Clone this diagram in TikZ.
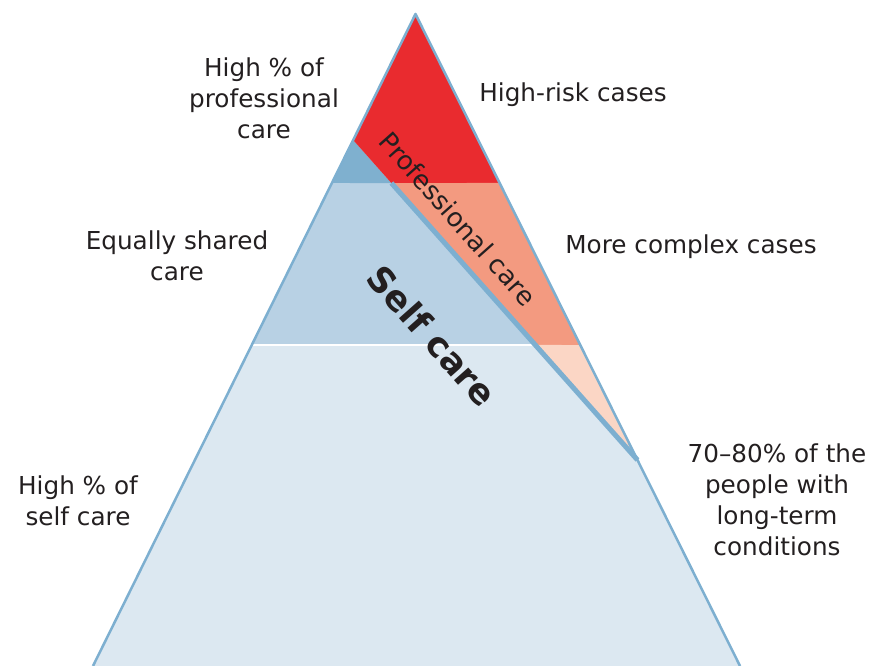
\documentclass[tikz,border=0pt]{standalone}
\usepackage{fontspec}
\setmainfont{DejaVu Sans}
\usetikzlibrary{calc}
\definecolor{carered}{RGB}{233,43,47}
\definecolor{caresalmon}{RGB}{243,154,128}
\definecolor{carepeach}{RGB}{251,214,197}
\definecolor{caredark}{RGB}{127,176,207}
\definecolor{caremid}{RGB}{184,209,228}
\definecolor{carelight}{RGB}{220,232,241}
\definecolor{careline}{RGB}{125,175,208}
\definecolor{caretext}{RGB}{35,31,32}

\begin{document}
\begin{tikzpicture}[x=1pt,y=1pt,
  sidetext/.style={text=caretext, align=center, inner sep=0pt,
    font=\fontsize{24.7}{31}\selectfont}]
\useasboundingbox (0,0) rectangle (876,666);

% Corners of the pyramid
\coordinate (apex) at (415.5,652);
\coordinate (baseL) at (93,0);
\coordinate (baseR) at (740,0);

% Points on the two sides
\coordinate (l140) at ($(apex)!0.1933!(baseL)$);
\coordinate (l183) at ($(apex)!0.2592!(baseL)$);
\coordinate (l345) at ($(apex)!0.5077!(baseL)$);
\coordinate (r183) at ($(apex)!0.2592!(baseR)$);
\coordinate (r345) at ($(apex)!0.5077!(baseR)$);
\coordinate (r460) at ($(apex)!0.6840!(baseR)$);

% Points on the dividing line
\coordinate (d183) at ($(l140)!0.1344!(r460)$);
\coordinate (d345) at ($(l140)!0.6406!(r460)$);

% Self care side
\fill[carelight] (apex) -- (baseL) -- (baseR) -- cycle;
\fill[caremid] (l183) -- (d183) -- (d345) -- (l345) -- cycle;
\fill[caredark] (l140) -- (d183) -- (l183) -- cycle;

% Professional care side
\fill[carered] (apex) -- (r183) -- (d183) -- (l140) -- cycle;
\fill[caresalmon] (d183) -- (r183) -- (r345) -- (d345) -- cycle;
\fill[carepeach] (d345) -- (r345) -- (r460) -- cycle;

% Lines
\draw[white, line width=1.8pt] (l345) -- (d345);
\draw[careline, line width=5pt] (d183) -- (r460);
\draw[careline, line width=2.5pt, line join=round] (baseL) -- (apex) -- (baseR);

% Texts inside
\node[text=caretext, rotate=-48.4, inner sep=0pt, font=\fontsize{26}{30}\selectfont]
  (prof) at (458,447) {Professional care};
\node[text=caretext, rotate=-48.4, inner sep=0pt, font=\fontsize{35}{40}\bfseries]
  (self) at (432,330) {Self care};

% Texts outside
\node[sidetext] (highprof) at (264,568) {High \% of\\professional\\care};
\node[sidetext] (highrisk) at (573,571) {High-risk cases};
\node[sidetext] (shared) at (177,410) {Equally shared\\care};
\node[sidetext] (complex) at (691,419) {More complex cases};
\node[sidetext] (people) at (777,166) {70--80\% of the\\people with\\long-term\\conditions};
\node[sidetext] (highself) at (78,165) {High \% of\\self care};
\end{tikzpicture}
\end{document}
